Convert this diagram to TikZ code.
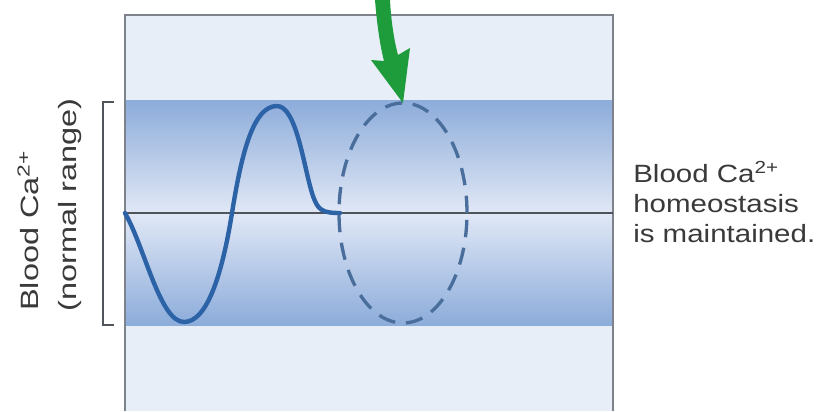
\documentclass[tikz,border=0pt]{standalone}
\usepackage{fontspec}
\usetikzlibrary{shapes.geometric}
\newfontfamily\rlab[FakeStretch=1.18]{Liberation Sans}
\newfontfamily\llab[FakeStretch=1.3]{Liberation Sans}
\definecolor{outerbg}{HTML}{E8EEF8}
\definecolor{banddark}{HTML}{8CACDA}
\definecolor{bandlight}{HTML}{E1E8F6}
\definecolor{framegray}{HTML}{7E838B}
\definecolor{midline}{HTML}{50555C}
\definecolor{wave}{HTML}{2C62A6}
\definecolor{dashc}{HTML}{4A6E9C}
\definecolor{arrowgreen}{HTML}{1E9B3A}
\definecolor{txt}{HTML}{3A3A3A}
\tikzset{
  rtext/.style={anchor=base west, inner sep=0pt, text=txt, font=\rlab\fontsize{18.75}{22.5}\selectfont},
  ltext/.style={anchor=base west, inner sep=0pt, rotate=90, text=txt, font=\llab\fontsize{18.75}{22.5}\selectfont},
}
\begin{document}
\begin{tikzpicture}[x=0.75pt,y=-0.75pt]
\useasboundingbox (0,0) rectangle (817,411);
\fill[white] (0,0) rectangle (817,411);
% frame background
\fill[outerbg] (125,15) rectangle (613,411);
% bands
\shade[top color=banddark, bottom color=bandlight] (125,100) rectangle (613,213);
\shade[top color=bandlight, bottom color=banddark] (125,213) rectangle (613,325);
% frame
\draw[framegray, line width=2.1pt] (125,411) -- (125,15) -- (613,15) -- (613,411);
% center line
\coordinate (cl) at (125,213);
\coordinate (cr) at (613,213);
\draw[midline, line width=2pt] (cl) -- (cr);
% bracket
\draw[midline, line width=1.2pt] (114,102) -- (103,102) -- (103,325) -- (114,325);
% wave
\draw[wave, line width=3.3pt, line cap=round, line join=round]
  (125,213) .. controls (145,248) and (160,322) .. (184,322)
  .. controls (207,322) and (222,275) .. (232,213)
  .. controls (242,150) and (254,106) .. (277,106)
  .. controls (297,106) and (304,170) .. (313,196)
  .. controls (318,210) and (322,213) .. (340,213);
% dashed ellipse
\node[draw=dashc, line width=2.5pt, dash pattern=on 13pt off 8pt, ellipse, minimum width=96pt, minimum height=165pt, inner sep=0pt] (ell) at (403,213) {};
% green arrow
\fill[arrowgreen] (375,0) .. controls (377,25) and (380,45) .. (384,61)
  -- (371,60) -- (403,103) -- (410,48) -- (398,55)
  .. controls (394,40) and (391,20) .. (390,0) -- cycle;
% labels
\node[rtext] (r1) at (633,182) {Blood Ca\textsuperscript{2+}};
\node[rtext] (r2) at (633,212) {homeostasis};
\node[rtext] (r3) at (633,242) {is maintained.};
\node[ltext] (l1) at (38,311) {Blood Ca\textsuperscript{2+}};
\node[ltext] (l2) at (76,312) {(normal range)};
\end{tikzpicture}
\end{document}
